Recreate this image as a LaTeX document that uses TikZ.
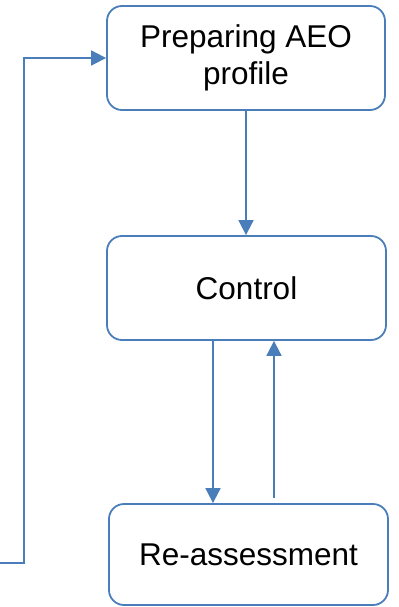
\documentclass[tikz,border=0pt]{standalone}
\usepackage{fontspec}
\setmainfont{Liberation Sans}
\usetikzlibrary{arrows.meta}
\definecolor{lineblue}{HTML}{4A7EBB}
\tikzset{
  box/.style={draw=lineblue, line width=1.8bp, rounded corners=15bp, align=center,
    font=\fontsize{31.5bp}{36.7bp}\selectfont, text=black, inner sep=0pt},
  arr/.style={draw=lineblue, line width=1.8bp, -{Triangle[length=15bp,width=15bp]}},
  plain/.style={draw=lineblue, line width=1.8bp}
}
\begin{document}
\begin{tikzpicture}[x=1bp,y=-1bp]
\useasboundingbox (0,0) rectangle (398,607);
\node[box, minimum width=278bp, minimum height=104bp] (prep) at (246,58) {Preparing AEO\\profile};
\node[box, minimum width=279bp, minimum height=104bp] (ctrl) at (246.5,288) {Control};
\node[box, minimum width=279bp, minimum height=101bp] (reas) at (248.5,554.5) {Re-assessment};
\draw[arr] (prep.south) -- (prep.south |- ctrl.north);
\coordinate (xd) at (213,0);
\coordinate (xu) at (274,0);
\draw[arr] (xd |- ctrl.south) -- (xd |- reas.north);
\draw[arr, shorten <=5bp] (xu |- reas.north) -- (xu |- ctrl.south);
\coordinate (s) at (0,563);
\coordinate (c) at (24,563);
\draw[arr] (s) -- (c) |- (prep.west);
\end{tikzpicture}
\end{document}
